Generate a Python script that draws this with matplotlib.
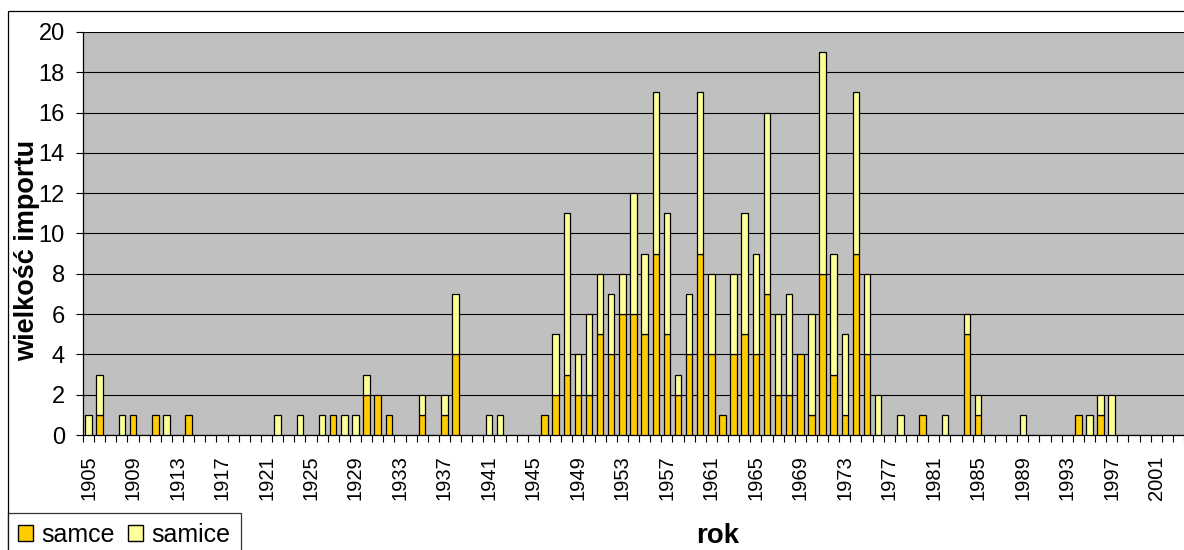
import numpy as np
import matplotlib
matplotlib.use("Agg")
import matplotlib.pyplot as plt
from matplotlib.patches import Rectangle, Patch

plt.rcParams["font.family"] = ["Liberation Sans", "DejaVu Sans"]

# yearly import counts, 1905-2003
years = list(range(1905, 2004))
samce = [
    0, 1, 0, 0, 1, 0, 1, 0, 0, 1,   # 1905-1914
    0, 0, 0, 0, 0, 0, 0, 0, 0, 0,   # 1915-1924
    0, 0, 1, 0, 0, 2, 2, 1, 0, 0,   # 1925-1934
    1, 0, 1, 4, 0, 0, 0, 0, 0, 0,   # 1935-1944
    0, 1, 2, 3, 2, 2, 5, 4, 6, 6,   # 1945-1954
    5, 9, 5, 2, 4, 9, 4, 1, 4, 5,   # 1955-1964
    4, 7, 2, 2, 4, 1, 8, 3, 1, 9,   # 1965-1974
    4, 0, 0, 0, 0, 1, 0, 0, 0, 5,   # 1975-1984
    1, 0, 0, 0, 0, 0, 0, 0, 0, 1,   # 1985-1994
    0, 1, 0, 0, 0, 0, 0, 0, 0,      # 1995-2003
]
samice = [
    1, 2, 0, 1, 0, 0, 0, 1, 0, 0,   # 1905-1914
    0, 0, 0, 0, 0, 0, 0, 1, 0, 1,   # 1915-1924
    0, 1, 0, 1, 1, 1, 0, 0, 0, 0,   # 1925-1934
    1, 0, 1, 3, 0, 0, 1, 1, 0, 0,   # 1935-1944
    0, 0, 3, 8, 2, 4, 3, 3, 2, 6,   # 1945-1954
    4, 8, 6, 1, 3, 8, 4, 0, 4, 6,   # 1955-1964
    5, 9, 4, 5, 0, 5, 11, 6, 4, 8,  # 1965-1974
    4, 2, 0, 1, 0, 0, 0, 1, 0, 1,   # 1975-1984
    1, 0, 0, 0, 1, 0, 0, 0, 0, 0,   # 1985-1994
    1, 1, 2, 0, 0, 0, 0, 0, 0,      # 1995-2003
]
series_labels = ["samce", "samice"]
y_label = "wielkość importu"
x_label = "rok"

C_MALE = "#FFCC00"
C_FEMALE = "#FFFF99"
C_PLOT_BG = "#C0C0C0"

W, H = 1184, 550
fig = plt.figure(figsize=(W / 100, H / 100), dpi=100)

def px(x, y):
    return x / W, 1 - y / H

left, top, bottom = 83, 32, 435
ax = fig.add_axes([left / W, 1 - bottom / H, (W - left) / W, (bottom - top) / H])
ax.set_facecolor(C_PLOT_BG)

x = np.arange(len(years))
m = np.array(samce, dtype=float)
f = np.array(samice, dtype=float)
# empty segments are left undrawn
m_draw = np.where(m > 0, m, np.nan)
f_draw = np.where(f > 0, f, np.nan)

bw = 0.58
ax.bar(x, m_draw, width=bw, color=C_MALE, edgecolor="black", linewidth=0.9, zorder=3)
ax.bar(x, f_draw, width=bw, bottom=m, color=C_FEMALE, edgecolor="black", linewidth=0.9, zorder=3)

ax.set_xlim(-0.5, len(years) - 0.5)
ax.set_ylim(0, 20)
ax.set_yticks(np.arange(0, 21, 2))
ax.yaxis.grid(True, color="black", linewidth=0.8, zorder=1)
ax.set_axisbelow(True)

# ticks on category boundaries, labels every fourth year at category centres
ax.set_xticks(np.arange(-0.5, len(years), 1))
ax.set_xticklabels([])
lab_pos = x[::4]
ax.set_xticks(lab_pos, minor=True)
ax.set_xticklabels([str(years[i]) for i in lab_pos], minor=True)
ax.tick_params(axis="x", which="major", direction="out", length=5, width=0.8)
ax.tick_params(axis="x", which="minor", length=0, pad=14.5, labelsize=14.5,
               labelrotation=90)
ax.tick_params(axis="y", direction="out", length=5, width=0.8, labelsize=17, pad=8)

for s in ["top", "right"]:
    ax.spines[s].set_visible(False)
for s in ["left", "bottom"]:
    ax.spines[s].set_linewidth(0.9)

fig.text(*px(27, 250), y_label, rotation=90, fontsize=19.5, fontweight="bold",
         ha="center", va="center")
fig.text(*px(718, 536), x_label, fontsize=20, fontweight="bold",
         ha="center", va="center")

# outer chart frame (continues past the right and bottom edges)
fig.add_artist(Rectangle(px(8, 600), 2, (600 - 11) / H, transform=fig.transFigure,
                         fill=False, edgecolor="black", linewidth=0.9))

handles = [Patch(facecolor=C_MALE, edgecolor="black", linewidth=1.0),
           Patch(facecolor=C_FEMALE, edgecolor="black", linewidth=1.0)]
leg = fig.legend(handles, series_labels, loc="upper left", bbox_to_anchor=px(8, 513),
                 ncol=2, fontsize=18, frameon=True, fancybox=False, shadow=False,
                 handlelength=0.6, handleheight=0.6, handletextpad=0.35,
                 columnspacing=0.5, borderpad=0.4, borderaxespad=0)
leg.get_frame().set_edgecolor("black")
leg.get_frame().set_linewidth(0.9)

fig.savefig("out.png", dpi=100)
